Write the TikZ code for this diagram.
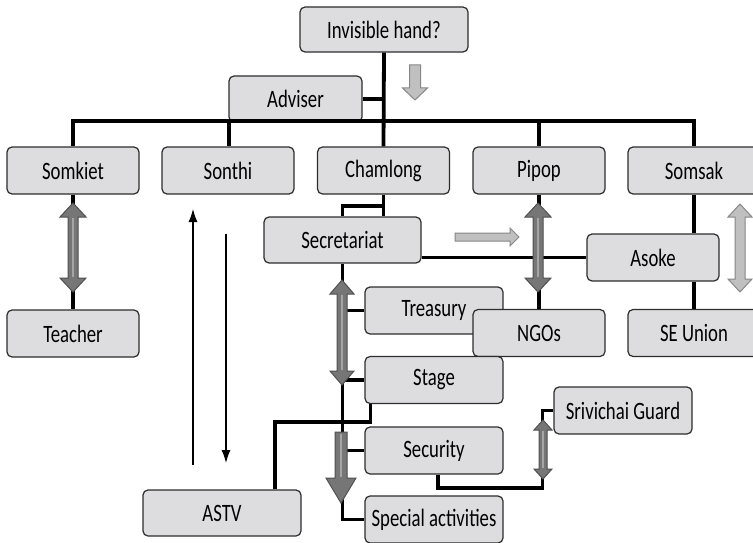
\documentclass[tikz,border=0pt]{standalone}
\usepackage{fontspec}
\setmainfont{Carlito}[FakeStretch=0.75]
\usetikzlibrary{arrows.meta}

\definecolor{boxfill}{RGB}{221,221,223}
\definecolor{boxline}{RGB}{45,45,45}
\definecolor{darkfill}{RGB}{118,118,118}
\definecolor{darkline}{RGB}{80,80,80}
\definecolor{darkstripe}{RGB}{165,165,165}
\definecolor{lightfill}{RGB}{192,192,192}
\definecolor{lightline}{RGB}{135,135,135}

\begin{document}
\begin{tikzpicture}[x=1pt,y=-1pt,
    box/.style={draw=boxline, fill=boxfill, line width=1.2pt, rounded corners=5pt,
      minimum width=132pt, minimum height=47pt, inner sep=0pt,
      font=\fontsize{25}{28}\selectfont},
    wire/.style={line width=3.8pt},
    thinarrow/.style={line width=1.2pt, -{Latex[length=13pt,width=9pt]}},
    darkarr/.style={fill=darkfill, draw=darkline, line width=1pt},
    lightarr/.style={fill=lightfill, draw=lightline, line width=1pt}]
      % fat arrows: style, x, top, bottom, shaft half, head half, head length
      \newcommand\vdarr[7]{%
        \filldraw[#1] (#2,#3) -- (#2+#6,#3+#7) -- (#2+#5,#3+#7) -- (#2+#5,#4-#7)
          -- (#2+#6,#4-#7) -- (#2,#4) -- (#2-#6,#4-#7) -- (#2-#5,#4-#7)
          -- (#2-#5,#3+#7) -- (#2-#6,#3+#7) -- cycle;}
      \newcommand\vsarr[7]{%
        \filldraw[#1] (#2-#5,#3) -- (#2+#5,#3) -- (#2+#5,#4-#7) -- (#2+#6,#4-#7)
          -- (#2,#4) -- (#2-#6,#4-#7) -- (#2-#5,#4-#7) -- cycle;}
      \newcommand\hsarr[7]{%
        \filldraw[#1] (#2,#4-#5) -- (#3-#7,#4-#5) -- (#3-#7,#4-#6) -- (#3,#4)
          -- (#3-#7,#4+#6) -- (#3-#7,#4+#5) -- (#2,#4+#5) -- cycle;}

      \clip (0,0) rectangle (753,543);
      \fill[white] (0,0) rectangle (753,543);

      \node[box, minimum width=168pt, minimum height=45pt] (inv) at (384,29.5) {Invisible hand?};
      \node[box, minimum width=133pt, minimum height=46pt] (adv) at (295.5,99) {Adviser};

      \foreach \n/\x/\t in {somk/73/Somkiet, sonthi/228/Sonthi, cham/383.5/Chamlong,
                            pipop/539/Pipop, somsak/694/Somsak}{
        \node[box] (\n) at (\x,170.5) {\t};
      }

      \node[box, minimum width=157pt, minimum height=46pt] (sec) at (342.5,240) {Secretariat};
      \node[box] (asoke) at (653,257.5) {Asoke};
      \node[box] (teach) at (73,333.5) {Teacher};
      \node[box, minimum width=138pt] (treas) at (434,310.5) {Treasury};
      \node[box] (ngos) at (539,333) {NGOs};
      \node[box] (seu) at (694,333) {SE Union};
      \node[box, minimum width=138pt] (stage) at (434,380) {Stage};
      \node[box, minimum width=138pt] (secu) at (434,450.5) {Security};
      \node[box, minimum width=138pt] (sg) at (623,410.5) {Srivichai Guard};
      \node[box, minimum width=138pt] (spec) at (434,519.5) {Special activities};
      \node[box, minimum width=158pt, minimum height=46pt] (astv) at (222,513) {ASTV};

      %%%%%%%%%%%%%%%%%%%%%%%%%%%%%%%%%%%%

      \coordinate (bar) at (229,121);
      \draw[wire] (inv.south) -- (cham.north);
      \draw[wire] (adv.east) -- (adv.east -| inv.south);
      \draw[wire] (somk.north) |- (bar) -| (somsak.north);
      \draw[wire] (bar) -- (sonthi.north -| bar);
      \draw[wire] (pipop.north) -- (pipop.north |- bar);

      \draw[wire] (cham.south) -- (cham.south |- sec.north);
      \draw[wire] (cham.south) -- ++(0,11) -| (sec.north);
      \draw[wire] (sec.east |- asoke.west) -- (asoke.west);
      \draw[wire] (somsak.south) -- (somsak.south |- asoke.north);
      \draw[wire] (asoke.south -| somsak.south) -- (seu.north);
      \draw[wire] (pipop.south) -- (ngos.north);
      \draw[wire] (somk.south) -- (teach.north);

      \draw[wire] (sec.south) |- (spec.west);
      \foreach \b in {treas,stage,secu}
        \draw[wire] (\b.west) -- (\b.west -| sec.south);
      \draw[wire] ([xshift=6pt]stage.south west) -- ++(0,18) -| ([xshift=53pt]astv.north);
      \draw[wire] ([xshift=4pt]secu.south) -- ++(0,13) -| ([xshift=-11pt]sg.west) -- (sg.west);

      %%%%%%%%%%%%%%%%%%%%%%%%%%%%%%%%%%%%

      \coordinate (upA) at (193,465);
      \coordinate (upB) at (193,209);
      \coordinate (dnA) at (226,234);
      \coordinate (dnB) at (226,463);
      \draw[thinarrow] (upA) -- (upB);
      \draw[thinarrow] (dnA) -- (dnB);

      \vsarr{lightarr}{415}{65}{100}{5.5}{12.5}{12}
      \hsarr{lightarr}{455}{519}{237}{4}{9}{9}
      \vdarr{lightarr}{740}{204}{292}{5}{12}{13}

      \foreach \x in {73,538}{
        \vdarr{darkarr}{\x}{203}{292}{5}{13}{14}
        \draw[darkstripe, line width=2pt] (\x,218) -- (\x,277);
      }
      \vdarr{darkarr}{342}{280}{385}{5}{12}{14}
      \draw[darkstripe, line width=2pt] (342,295) -- (342,370);
      \vsarr{darkarr}{341}{432}{503}{6}{15}{25}
      \draw[darkstripe, line width=2pt] (341,434) -- (341,477);
      \vdarr{darkarr}{543}{420}{479}{4}{9}{10}
      \draw[darkstripe, line width=1.5pt] (543,431) -- (543,468);

  \end{tikzpicture}
\end{document}
